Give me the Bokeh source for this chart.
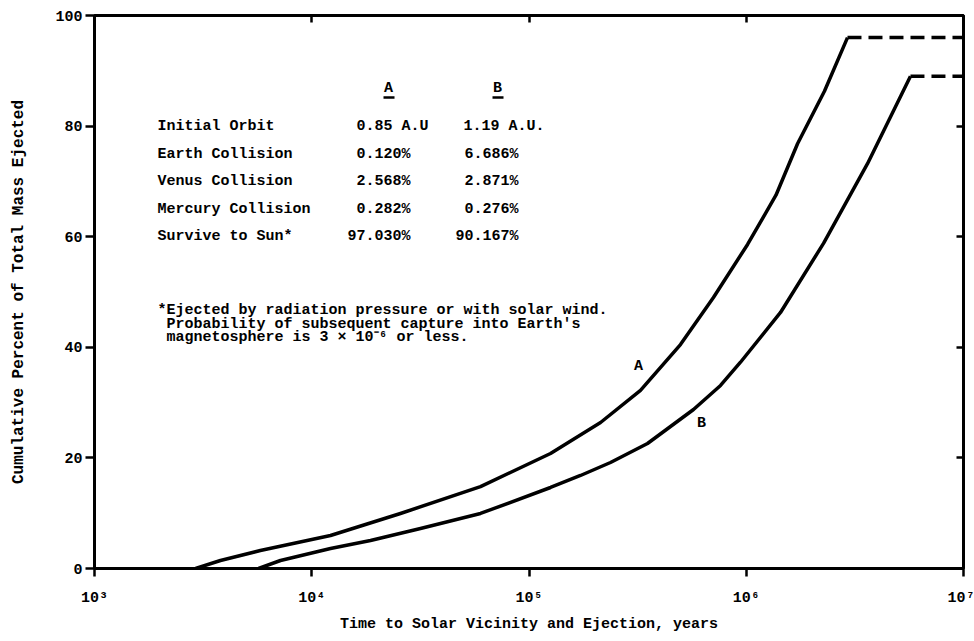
from bokeh.plotting import figure
from bokeh.models import (LogAxis, LinearAxis, FixedTicker, CustomJSTickFormatter,
                          ColumnDataSource, Range1d)
from bokeh.core.properties import value, field
from bokeh.embed import file_html
from bokeh.resources import INLINE

# ---------------- data ----------------
a_years = [2920, 3800, 5800, 12200, 25600, 59800, 125600, 213500, 326000,
           497900, 706300, 1014000, 1370000, 1722000, 2290000, 2924000]
a_pct = [0, 1.45, 3.25, 5.97, 9.95, 14.8, 20.8, 26.4, 32.2, 40.5, 49.0,
         58.6, 67.5, 76.8, 86.3, 96.0]

b_years = [5690, 7180, 12200, 18640, 31660, 59800, 125600, 172600, 237200,
           351200, 571800, 761400, 940800, 1438000, 2268000, 3615000, 5700000]
b_pct = [0, 1.45, 3.62, 5.06, 7.23, 9.95, 14.65, 16.82, 19.17, 22.6, 28.75,
         33.1, 37.3, 46.3, 58.8, 73.2, 89.0]

x_end = 1e7  # dashed continuation to the right edge

x_ticks = [1e3, 1e4, 1e5, 1e6, 1e7]
x_tick_labels = ["10³", "10⁴", "10⁵", "10⁶", "10⁷"]
y_ticks = [0, 20, 40, 60, 80, 100]

table_rows = ["Initial Orbit", "Earth Collision", "Venus Collision",
              "Mercury Collision", "Survive to Sun*"]
col_a = ["0.85 A.U", "0.120%", "2.568%", "0.282%", "97.030%"]
col_b = ["1.19 A.U.", "6.686%", "2.871%", "0.276%", "90.167%"]
headers = ["A", "B"]
footnote = ["*Ejected by radiation pressure or with solar wind.",
            "\u00a0Probability of subsequent capture into Earth's",
            "\u00a0magnetosphere is 3 × 10⁻⁶ or less."]

# ---------------- layout helpers (pixel placement of annotations) ----------------
W, H = 974, 641
FL, FR, FT, FB = 94, 963, 15, 568


def xd(px):
    return 10 ** (3 + 4 * (px - FL) / (FR - FL))


def yd(py):
    return 100 * (FB - py) / (FB - FT)


FONT = "Liberation Mono"

p = figure(width=W, height=H, x_axis_type="log",
           x_range=Range1d(1e3, 1e7), y_range=Range1d(0, 100),
           output_backend="svg", toolbar_location=None,
           min_border_left=FL, min_border_right=W - FR,
           min_border_top=FT, min_border_bottom=H - FB)
p.grid.visible = False
p.background_fill_color = "white"
p.border_fill_color = "white"
p.outline_line_color = "black"
p.outline_line_width = 3

# bottom axis
xa = p.xaxis[0]
xa.ticker = FixedTicker(ticks=x_ticks)
xa.formatter = CustomJSTickFormatter(
    args=dict(xt=x_ticks, xl=x_tick_labels),
    code="""
    for (let i = 0; i < xt.length; i++) {
        if (Math.abs(Math.log10(xt[i]) - Math.log10(tick)) < 1e-6) return xl[i];
    }
    return '';
    """)
xa.axis_label = "Time to Solar Vicinity and Ejection, years"
xa.major_tick_out = 8
xa.major_tick_in = 0
xa.minor_tick_line_color = None
xa.major_label_standoff = 13
xa.axis_label_standoff = 6

# left axis
ya = p.yaxis[0]
ya.ticker = FixedTicker(ticks=y_ticks)
ya.axis_label = "Cumulative Percent of Total Mass Ejected"
ya.major_tick_out = 9
ya.major_tick_in = 0
ya.minor_tick_line_color = None
ya.major_label_standoff = 3
ya.axis_label_standoff = 24

for ax in (xa, ya):
    ax.axis_line_width = 3
    ax.axis_line_color = "black"
    ax.major_tick_line_width = 2.5
    ax.major_tick_line_color = "black"
    ax.major_label_text_font = FONT
    ax.major_label_text_font_style = "bold"
    ax.major_label_text_font_size = "15px"
    ax.major_label_text_color = "black"
    ax.axis_label_text_font = FONT
    ax.axis_label_text_font_style = "bold"
    ax.axis_label_text_font_size = "15px"
    ax.axis_label_text_color = "black"
ya.axis_label_text_font_size = "16px"

top = LogAxis(ticker=FixedTicker(ticks=x_ticks[1:-1]),
              formatter=CustomJSTickFormatter(code="return '';"),
              major_tick_in=7, major_tick_out=0, major_label_standoff=0,
              minor_tick_line_color=None, axis_line_width=3,
              major_tick_line_width=2.5, major_label_text_font_size="1px")
right = LinearAxis(ticker=FixedTicker(ticks=y_ticks[1:-1]),
                   formatter=CustomJSTickFormatter(code="return '';"),
                   major_tick_in=7, major_tick_out=0, major_label_standoff=0,
                   minor_tick_line_color=None, axis_line_width=3,
                   major_tick_line_width=2.5, major_label_text_font_size="1px")
p.add_layout(top, "above")
p.add_layout(right, "right")

# curves
p.line(a_years, a_pct, line_color="black", line_width=3.5, line_join="round")
p.line(b_years, b_pct, line_color="black", line_width=3.5, line_join="round")
p.line([a_years[-1], x_end], [a_pct[-1], a_pct[-1]], line_color="black",
       line_width=3.5, line_dash="14 7")
p.line([b_years[-1], x_end], [b_pct[-1], b_pct[-1]], line_color="black",
       line_width=3.5, line_dash="14 7")

common = dict(text_font=value(FONT), text_font_style="bold",
              text_font_size="15px", text_color="black", text_baseline="middle")

# curve labels
p.text(x=[xd(638), xd(701)], y=[yd(366), yd(423)], text=headers,
       text_align="center", **common)

# table
row_y = [126, 154, 181, 209, 236]
p.text(x=[xd(157)] * len(table_rows), y=[yd(r) for r in row_y],
       text=table_rows, text_align="left", **common)

src_a = ColumnDataSource(dict(
    x=[xd(356)] + [xd(410)] * (len(col_a) - 1),
    y=[yd(r) for r in row_y], text=col_a,
    align=["left"] + ["right"] * (len(col_a) - 1)))
p.text(x="x", y="y", text="text", source=src_a, text_align=field("align"), **common)

src_b = ColumnDataSource(dict(
    x=[xd(463)] + [xd(518)] * (len(col_b) - 1),
    y=[yd(r) for r in row_y], text=col_b,
    align=["left"] + ["right"] * (len(col_b) - 1)))
p.text(x="x", y="y", text="text", source=src_b, text_align=field("align"), **common)

p.text(x=[xd(388), xd(497)], y=[yd(88), yd(88)], text=headers,
       text_align="center", **common)
p.segment(x0=[xd(383), xd(492)], x1=[xd(394), xd(503)],
          y0=[yd(97), yd(97)], y1=[yd(97), yd(97)],
          line_color="black", line_width=2.5)

# footnote
foot_y = [310, 323.5, 337]
p.text(x=[xd(157)] * len(footnote), y=[yd(v) for v in foot_y], text=footnote,
       text_align="left", **common)

open("out.html", "w").write(file_html(p, INLINE))
